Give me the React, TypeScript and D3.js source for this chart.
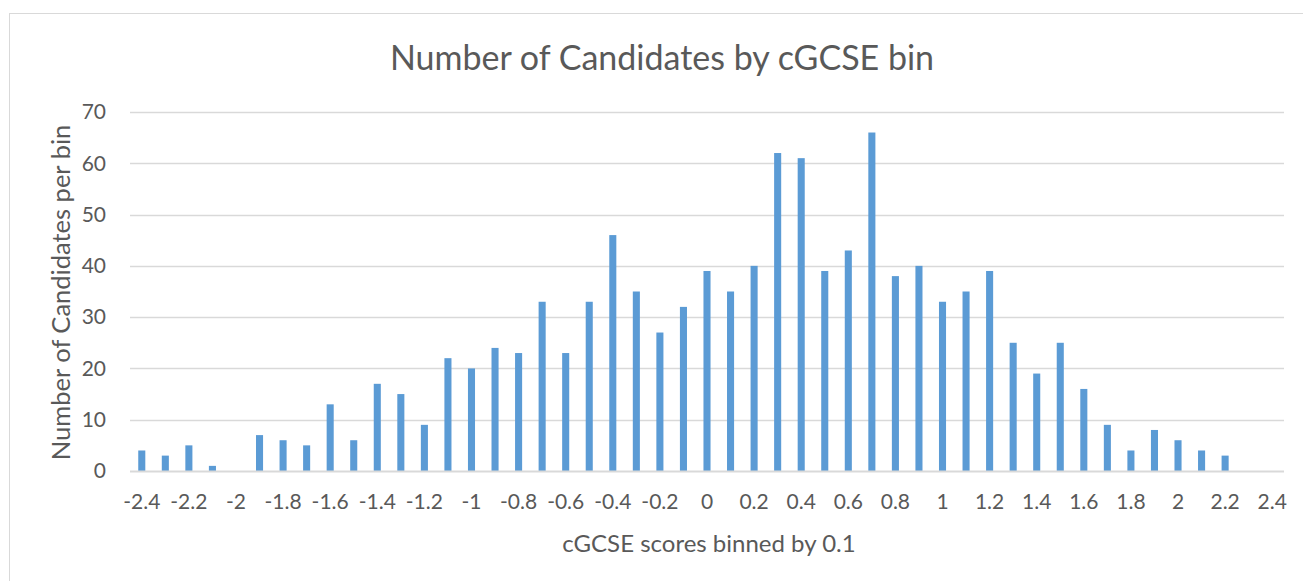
import React from "react";
import * as d3 from "d3";

const categories: string[] = [
  "-2.4","-2.3","-2.2","-2.1","-2","-1.9","-1.8","-1.7","-1.6","-1.5","-1.4","-1.3","-1.2","-1.1","-1",
  "-0.9","-0.8","-0.7","-0.6","-0.5","-0.4","-0.3","-0.2","-0.1","0","0.1","0.2","0.3","0.4","0.5","0.6",
  "0.7","0.8","0.9","1","1.1","1.2","1.3","1.4","1.5","1.6","1.7","1.8","1.9","2","2.1","2.2","2.3","2.4",
];
const counts: number[] = [
  4, 3, 5, 1, 0, 7, 6, 5, 13, 6, 17, 15, 9, 22, 20,
  24, 23, 33, 23, 33, 46, 35, 27, 32, 39, 35, 40, 62, 61, 39, 43,
  66, 38, 40, 33, 35, 39, 25, 19, 25, 16, 9, 4, 8, 6, 4, 3, 0, 0,
];
const yTicks: number[] = [0, 10, 20, 30, 40, 50, 60, 70];
const xTickLabels: string[] = categories.filter((_, i) => i % 2 === 0);

const title = "Number of Candidates by cGCSE bin";
const xTitle = "cGCSE scores binned by 0.1";
const yTitle = "Number of Candidates per bin";

export default function App() {
  const W = 1303, H = 581;
  const left = 130, right = 1284, top = 112, bottom = 471;
  const x = d3.scaleBand<string>().domain(categories).range([left, right]).paddingInner(0.7).paddingOuter(0.35);
  const y = d3.scaleLinear().domain([0, 70]).range([bottom, top]);
  const font = "Lato, 'Open Sans', sans-serif";
  const textColor = "#595959";
  return (
    <svg width={W} height={H} style={{ position: "absolute", left: 0, top: 0, background: "#fff" }} fontFamily={font}>
      <rect x={9.5} y={13.5} width={W + 10} height={H + 10} fill="#fff" stroke="#d9d9d9" strokeWidth={1} />
      <text x={662} y={70} textAnchor="middle" fontSize={34} fill={textColor}>{title}</text>
      {yTicks.map((t) => (
        <g key={t}>
          {t > 0 && <line x1={left} x2={right} y1={Math.round(y(t)) + 0.5} y2={Math.round(y(t)) + 0.5} stroke="#d9d9d9" strokeWidth={1.5} />}
          <text x={106} y={y(t)} dy="0.35em" textAnchor="end" fontSize={21} fill={textColor}>{t}</text>
        </g>
      ))}
      {categories.map((c, i) => (
        <rect key={c} x={x(c)} y={y(counts[i])} width={x.bandwidth()} height={bottom - y(counts[i])} fill="#5b9bd5" />
      ))}
      <line x1={left} x2={right} y1={bottom + 0.5} y2={bottom + 0.5} stroke="#d9d9d9" strokeWidth={2} />
      {xTickLabels.map((c) => (
        <text key={c} x={(x(c) as number) + x.bandwidth() / 2} y={502} dy="0.35em" textAnchor="middle" fontSize={21} fill={textColor}>{c}</text>
      ))}
      <text x={709} y={544} dy="0.35em" textAnchor="middle" fontSize={24} fill={textColor}>{xTitle}</text>
      <text transform={`translate(61,${(top + bottom) / 2 + 1}) rotate(-90)`} dy="0.35em" textAnchor="middle" fontSize={25.5} fill={textColor}>{yTitle}</text>
    </svg>
  );
}
